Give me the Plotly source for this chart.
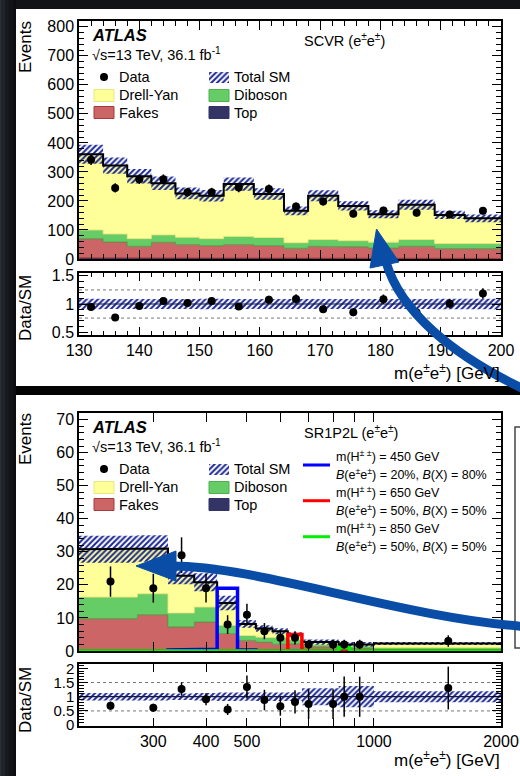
import numpy as np
import plotly.graph_objects as go

# ---------------- SCVR (e±e±) control region ----------------
scvr_edges = [130, 134, 138, 142, 146, 150, 154, 159, 164, 168, 173, 178, 183, 189, 194, 200]
scvr_top = [4, 3, 3, 3, 3, 3, 3, 3, 2, 2, 2, 2, 2, 2, 2]
scvr_fakes = [66, 56, 41, 55, 47, 43, 47, 43, 35, 42, 40, 36, 42, 34, 34]
scvr_diboson = [30, 27, 26, 25, 25, 24, 28, 28, 19, 23, 21, 20, 23, 17, 17]
scvr_dy = [261, 236, 215, 178, 151, 148, 180, 150, 110, 151, 120, 96, 120, 99, 87]
scvr_syst = [33, 28, 25, 23, 20, 20, 23, 20, 15, 19, 16, 14, 17, 14, 13]
scvr_data = [342, 245, 275, 275, 230, 230, 246, 241, 181, 198, 156, 167, 159, 153, 166]

# ---------------- SR1P2L (e±e±) signal region ----------------
sr_edges = [200, 275, 325, 375, 425, 475, 525, 575, 625, 675, 825, 1000, 2000]
sr_top = [0.3, 0.3, 0.3, 0.5, 0.3, 0.2, 0.1, 0.1, 0.1, 0.1, 0.1, 0.1]
sr_fakes = [9.5, 10.7, 7.0, 8.3, 5.0, 3.0, 2.6, 1.9, 2.1, 1.2, 0.8, 0.4]
sr_diboson = [6.5, 6.3, 4.2, 4.5, 2.5, 1.5, 1.5, 2.0, 1.2, 0.6, 0.5, 0.5]
sr_dy = [14.5, 13.7, 11.3, 7.5, 6.7, 3.5, 2.6, 2.0, 1.5, 0.8, 0.6, 1.3]
sr_syst = [4.1, 4.0, 2.6, 2.7, 2.2, 1.2, 1.0, 0.9, 0.75, 0.8, 0.75, 0.45]
sr_data_mass = [237.5, 300, 350, 400, 450, 500, 550, 600, 650, 700, 800, 850, 925, 1500]
sr_data = [21, 19, 29, 19, 8, 11, 6, 4, 4, 2, 2, 2, 2, 3]

sig_edges = [200, 275, 325, 375, 425, 475, 525, 575, 625, 675, 725, 775, 825, 875, 1000, 2000]
sig_450 = [0, 0, 0.3, 0.5, 19, 0.3, 0, 0, 0, 0, 0, 0, 0, 0, 0]
sig_650 = [0, 0, 0, 0, 0, 0, 0, 0, 5.0, 0, 0, 0, 0, 0, 0]
sig_850 = [0, 0, 0, 0, 0, 0, 0, 0, 0, 0, 0, 0, 1.0, 0, 0]

scvr_xticks = [130, 140, 150, 160, 170, 180, 190, 200]
sr_xticks = [300, 400, 500, 600, 700, 800, 900, 1000, 2000]
sr_xticklabels = ["300", "400", "500", "", "", "", "", "1000", "2000"]

# ---------------- style ----------------
W, H = 520, 776
FONT = "Liberation Sans, Arial, Helvetica, sans-serif"
C_DY, C_VV, C_FAKE, C_TOP = "#ffff99", "#66cc66", "#cc6666", "#333366"
L_DY, L_VV, L_FAKE, L_TOP = "#e8e880", "#4fb04f", "#a83a3a", "#333366"
C_HATCH = "#1b2894"
C_ARROW = "#0a4da6"
HATCH = dict(shape="/", fgcolor=C_HATCH, bgcolor="rgba(0,0,0,0)", size=4,
             solidity=0.5, fillmode="replace")

fig = go.Figure()


def px(x):
    return x / W


def py(y):
    return 1 - y / H


def steps(edges, vals):
    xs, ys = [], []
    for i, v in enumerate(vals):
        xs += [edges[i], edges[i + 1]]
        ys += [v, v]
    return xs, ys


def band(edges, lo, hi):
    xs, ys = [], []
    for i in range(len(lo)):
        a, b = edges[i], edges[i + 1]
        xs += [a, b, b, a, a, None]
        ys += [lo[i], lo[i], hi[i], hi[i], lo[i], None]
    return xs, ys


def layer(edges, lower, upper):
    xt, yt = steps(edges, upper)
    xb, yb = steps(edges, lower)
    return xt + xb[::-1], yt + yb[::-1]


def add(trace, xa, ya):
    trace.update(xaxis=xa, yaxis=ya, hoverinfo="skip", showlegend=False)
    fig.add_trace(trace)


def draw_region(edges, top, fakes, dib, dy, syst, data_x, data, xa, ya, xr, yr,
                dotted, signals=()):
    comps = [(top, C_TOP, L_TOP), (fakes, C_FAKE, L_FAKE), (dib, C_VV, L_VV), (dy, C_DY, L_DY)]
    cum = np.zeros(len(edges) - 1)
    for vals, col, lcol in comps:
        hi = cum + np.array(vals, dtype=float)
        x, y = layer(edges, cum, hi)
        add(go.Scatter(x=x, y=y, mode="lines", fill="toself", fillcolor=col,
                       line=dict(color=lcol, width=1)), xa, ya)
        cum = hi
    total = cum
    syst = np.array(syst, dtype=float)
    x, y = band(edges, total - syst, total + syst)
    add(go.Scatter(x=x, y=y, mode="lines", fill="toself", fillcolor="rgba(0,0,0,0)",
                   fillpattern=HATCH, line=dict(width=0, color="rgba(0,0,0,0)")), xa, ya)
    x, y = steps(edges, total)
    add(go.Scatter(x=x, y=y, mode="lines", line=dict(color="black", width=2)), xa, ya)
    for sedges, svals, scol in signals:
        x, y = steps(sedges, svals)
        add(go.Scatter(x=x, y=y, mode="lines", line=dict(color=scol, width=3.5)), xa, ya)
    data = np.array(data, dtype=float)
    add(go.Scatter(x=data_x, y=data, mode="markers",
                   marker=dict(size=8, color="black"),
                   error_y=dict(type="data", array=np.sqrt(data), width=0,
                                thickness=1.5, color="black")), xa, ya)

    # ratio panel
    for lvl in dotted:
        add(go.Scatter(x=[edges[0], edges[-1]], y=[lvl, lvl], mode="lines",
                       line=dict(color="#777777", width=1, dash="dot")), xr, yr)
    rel = syst / total
    x, y = band(edges, 1 - rel, 1 + rel)
    add(go.Scatter(x=x, y=y, mode="lines", fill="toself", fillcolor="rgba(0,0,0,0)",
                   fillpattern=HATCH, line=dict(width=0, color="rgba(0,0,0,0)")), xr, yr)
    add(go.Scatter(x=[edges[0], edges[-1]], y=[1, 1], mode="lines",
                   line=dict(color="#1a1a40", width=1.2)), xr, yr)
    idx = np.clip(np.searchsorted(edges, data_x, side="right") - 1, 0, len(total) - 1)
    tot_at = total[idx]
    add(go.Scatter(x=data_x, y=data / tot_at, mode="markers",
                   marker=dict(size=8, color="black"),
                   error_y=dict(type="data", array=np.sqrt(data) / tot_at, width=0,
                                thickness=1.5, color="black")), xr, yr)


scvr_centers = [(a + b) / 2 for a, b in zip(scvr_edges[:-1], scvr_edges[1:])]
draw_region(scvr_edges, scvr_top, scvr_fakes, scvr_diboson, scvr_dy, scvr_syst,
            scvr_centers, scvr_data, "x", "y", "x2", "y2", dotted=(0.75, 1.25))
draw_region(sr_edges, sr_top, sr_fakes, sr_diboson, sr_dy, sr_syst,
            sr_data_mass, sr_data, "x3", "y3", "x4", "y4", dotted=(0.5, 1.5),
            signals=[(sig_edges, sig_450, "#0000ff"), (sig_edges, sig_650, "#ff0000"),
                     (sig_edges, sig_850, "#00ee00")])

# ---------------- legends, labels (pixel overlay axis x5/y5) ----------------
ann = []
shapes = []


def text(x, y, s, size=14.5, xanchor="left", yanchor="middle", angle=0):
    ann.append(dict(x=x, y=y, xref="x5", yref="y5", text=s, showarrow=False,
                    xanchor=xanchor, yanchor=yanchor, textangle=angle,
                    font=dict(family=FONT, size=size, color="black")))


def box(x0, y0, x1, y1, fill, line):
    shapes.append(dict(type="rect", xref="x5", yref="y5", x0=x0, y0=y0, x1=x1, y1=y1,
                       fillcolor=fill, line=dict(color=line, width=1), layer="above"))


EE = "e<sup>±</sup>e<sup>±</sup>"
for off, region in [(0, "SCVR (" + EE + ")"), (392, "SR1P2L (" + EE + ")")]:
    text(90, 35 + off, "<b><i>ATLAS</i></b>", size=16.5)
    text(90, 53.5 + off, "√s=13 TeV, 36.1 fb<sup>-1</sup>", size=14.5)
    text(302, 40 + off, region, size=14.5)
    # legend entries
    add(go.Scatter(x=[104], y=[77 + off], mode="markers", marker=dict(size=8, color="black"),
                   error_y=dict(type="constant", value=4, width=0, thickness=1.5,
                                color="black")), "x5", "y5")
    text(117, 77 + off, "Data")
    add(go.Scatter(x=[209, 229, 229, 209, 209], y=[72 + off, 72 + off, 83 + off, 83 + off, 72 + off],
                   mode="lines", fill="toself", fillcolor="rgba(0,0,0,0)", fillpattern=HATCH,
                   line=dict(width=0, color="rgba(0,0,0,0)")), "x5", "y5")
    text(232, 77 + off, "Total SM")
    box(94, 89.5 + off, 114, 101.5 + off, C_DY, L_DY)
    text(117, 95 + off, "Drell-Yan")
    box(209, 89.5 + off, 229, 101.5 + off, C_VV, L_VV)
    text(232, 95 + off, "Diboson")
    box(94, 106.5 + off, 114, 118.5 + off, C_FAKE, L_FAKE)
    text(117, 112.5 + off, "Fakes")
    box(209, 106.5 + off, 229, 118.5 + off, C_TOP, L_TOP)
    text(232, 112.5 + off, "Top")
    # axis titles
    text(25, 19 + off, "Events", size=17, xanchor="center", yanchor="top", angle=-90)
    text(25, 273 + off, "Data/SM", size=17, xanchor="center", yanchor="top", angle=-90)
    text(502, 372 + off * 0.9872, "m(" + EE + ") [GeV]", size=17, xanchor="right")

# signal legend
sig_leg = [(465, "#0000ff", "450", "20%", "80%"),
           (500.7, "#ff0000", "650", "50%", "50%"),
           (536.7, "#00ee00", "850", "50%", "50%")]
for yc, col, mass, bee, bx in sig_leg:
    shapes.append(dict(type="line", xref="x5", yref="y5", x0=303, x1=330, y0=yc, y1=yc,
                       line=dict(color=col, width=3), layer="above"))
    text(334, yc - 9, "m(H<sup>± ±</sup>) = " + mass + " GeV", size=12.5)
    text(334, yc + 9, "<i>B</i>(" + EE + ") = " + bee + ", <i>B</i>(X) = " + bx, size=12.5)

# curved arrows
def arrow(path, head):
    shapes.append(dict(type="path", xref="x5", yref="y5", path=path,
                       line=dict(color=C_ARROW, width=9), layer="above"))
    (ax, ay), (bx_, by), (cx, cy) = head
    shapes.append(dict(type="path", xref="x5", yref="y5",
                       path=f"M {ax},{ay} L {bx_},{by} L {cx},{cy} Z",
                       fillcolor=C_ARROW, line=dict(color=C_ARROW, width=1), layer="above"))


arrow("M 386,262 C 400,310 450,355 530,392", [(376.5, 229), (370, 268), (399, 262)])
arrow("M 172,566 C 260,566 400,618 530,627", [(136, 566), (176, 551), (176, 581)])

# page background: dark slide with a soft left-edge gradient, two white panels
bg = [dict(x0=0, x1=1, y0=0, y1=1, fillcolor="#111317")]
strip = ["#2a2e37", "#262a32", "#22252d", "#1e2128", "#1b1e24", "#181a20",
         "#15171c", "#131519", "#111317", "#0f1114", "#0e0f12", "#0d0e11"]
for i, col in enumerate(strip):
    bg.append(dict(x0=px(i * 16 / len(strip)), x1=px((i + 1) * 16 / len(strip)),
                   y0=0, y1=1, fillcolor=col))
bg += [
    dict(x0=px(16), x1=1, y0=py(386), y1=py(9), fillcolor="white"),
    dict(x0=px(16), x1=1, y0=py(395), y1=py(386), fillcolor="#030304"),
    dict(x0=px(16), x1=1, y0=0, y1=py(395), fillcolor="white"),
]
for b in bg:
    shapes.append(dict(type="rect", xref="paper", yref="paper", layer="below",
                       line=dict(width=0), **b))
shapes.append(dict(type="rect", xref="paper", yref="paper", layer="below",
                   x0=px(515), x1=px(535), y0=py(648), y1=py(427),
                   fillcolor="white", line=dict(color="#444444", width=1.5)))

# ---------------- axes ----------------
common = dict(showline=True, linecolor="black", linewidth=1.5, mirror="allticks",
              ticks="inside", tickcolor="black", tickwidth=1, showgrid=False,
              zeroline=False, tickfont=dict(family=FONT, size=16, color="black"),
              fixedrange=True, automargin=False)
XD = [px(79), px(501)]


def ydom(top, bottom):
    return [py(bottom), py(top)]


def minor(dt, ln):
    return dict(ticks="inside", dtick=dt, ticklen=ln, tickcolor="black", tickwidth=1)


def minor_vals(vals, ln):
    return dict(ticks="inside", tickmode="array", tickvals=vals, ticklen=ln,
                tickcolor="black", tickwidth=1)


ratio_minor_top = [round(v, 2) for v in np.arange(0.5, 1.55, 0.1)]
ratio_minor_bot = [round(v, 2) for v in np.arange(0.0, 2.15, 0.1)]
lo_sr, hi_sr = np.log10(sr_edges[0]), np.log10(sr_edges[-1])

fig.update_layout(
    template="none",
    width=W, height=H, autosize=False,
    margin=dict(l=0, r=0, t=0, b=0, pad=0),
    paper_bgcolor="#111317", plot_bgcolor="rgba(0,0,0,0)",
    font=dict(family=FONT, color="black"),
    xaxis=dict(common, domain=XD, anchor="y", range=[scvr_edges[0], scvr_edges[-1]],
               tickmode="array", tickvals=scvr_xticks, showticklabels=False, ticklen=9,
               minor=minor(2, 5)),
    yaxis=dict(common, domain=ydom(21, 259), anchor="x", range=[0, 820], dtick=100,
               ticklen=9, minor=minor(20, 5)),
    xaxis2=dict(common, domain=XD, anchor="y2", range=[scvr_edges[0], scvr_edges[-1]],
                tickmode="array", tickvals=scvr_xticks, ticklen=8, minor=minor(2, 4)),
    yaxis2=dict(common, domain=ydom(273, 335), anchor="x2", range=[0.45, 1.55],
                tickmode="array", tickvals=[0.5, 1, 1.5], ticktext=["0.5", "1", "1.5"],
                ticklen=9, minor=minor_vals(ratio_minor_top, 5)),
    xaxis3=dict(common, domain=XD, anchor="y3", type="log", range=[lo_sr, hi_sr],
                tickmode="array", tickvals=sr_xticks, showticklabels=False, ticklen=9),
    yaxis3=dict(common, domain=ydom(413, 651), anchor="x3", range=[0, 72], dtick=10,
                ticklen=9, minor=minor(2, 5)),
    xaxis4=dict(common, domain=XD, anchor="y4", type="log", range=[lo_sr, hi_sr],
                tickmode="array", tickvals=sr_xticks, ticktext=sr_xticklabels, ticklen=8),
    yaxis4=dict(common, domain=ydom(664, 726), anchor="x4", range=[-0.03, 2.15],
                tickmode="array", tickvals=[0, 0.5, 1, 1.5, 2],
                ticktext=["0", "0.5", "1", "1.5", "2"], ticklen=9,
                tickfont=dict(family=FONT, size=15, color="black"),
                minor=minor_vals(ratio_minor_bot, 5)),
    xaxis5=dict(domain=[0, 1], anchor="y5", range=[0, W], visible=False, fixedrange=True),
    yaxis5=dict(domain=[0, 1], anchor="x5", range=[H, 0], visible=False, fixedrange=True),
    annotations=ann,
    shapes=shapes,
    showlegend=False,
)

fig.write_html("out.html")
